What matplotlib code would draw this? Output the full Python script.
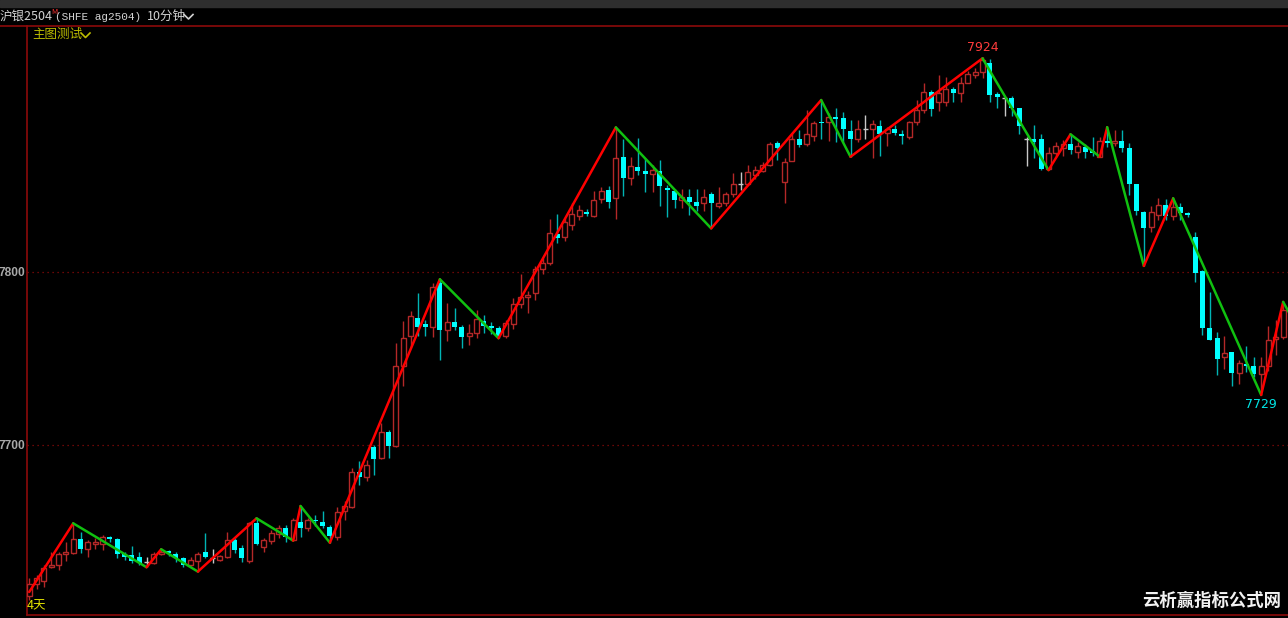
import numpy as np
import matplotlib
matplotlib.use('Agg')
from matplotlib import pyplot as plt
from matplotlib.lines import Line2D

# 10分钟K线 (沪银2504), 读图估算
opens = [7612.7, 7619.7, 7621.4, 7629.5, 7630.6, 7637.0, 7637.6, 7645.7, 7639.9, 7642.8,
         7642.8, 7646.8, 7645.7, 7637.0, 7636.4, 7635.3, 7632.4, 7631.8, 7637.0, 7638.7,
         7637.0, 7634.7, 7630.6, 7633.0, 7638.1, 7634.7, 7633.6, 7635.3, 7645.1, 7640.4,
         7633.0, 7654.7, 7641.0, 7644.5, 7648.5, 7652.0, 7645.1, 7655.7, 7652.1, 7656.9,
         7655.5, 7652.4, 7646.6, 7662.0, 7664.3, 7684.4, 7681.7, 7698.6, 7692.3, 7707.3,
         7699.4, 7745.7, 7763.0, 7773.6, 7769.9, 7768.4, 7793.5, 7766.5, 7771.3, 7768.4,
         7763.2, 7764.7, 7771.6, 7768.8, 7767.5, 7763.2, 7769.8, 7781.5, 7785.4, 7787.7,
         7801.6, 7805.4, 7821.8, 7820.4, 7827.2, 7832.6, 7834.8, 7832.6, 7842.2, 7847.4,
         7842.6, 7866.6, 7854.1, 7860.5, 7858.5, 7856.6, 7858.5, 7848.7, 7846.8, 7841.6,
         7843.5, 7840.6, 7839.7, 7844.9, 7838.3, 7839.7, 7844.9, 7851.0, 7851.0, 7856.0,
         7858.4, 7861.7, 7874.4, 7852.2, 7864.3, 7876.7, 7873.8, 7878.6, 7886.8, 7886.5,
         7889.4, 7888.8, 7881.7, 7876.7, 7882.5, 7882.5, 7884.6, 7880.5, 7882.5, 7879.7,
         7878.2, 7886.5, 7893.6, 7903.9, 7898.4, 7898.4, 7905.6, 7903.6, 7909.4, 7913.8,
         7915.4, 7921.0, 7902.7, 7900.7, 7900.7, 7894.6, 7876.7, 7876.9, 7876.9, 7859.3,
         7868.6, 7871.5, 7874.0, 7869.5, 7872.0, 7870.0, 7866.6, 7875.7, 7874.4, 7875.7,
         7871.8, 7850.8, 7834.8, 7826.2, 7832.9, 7838.7, 7832.1, 7837.4, 7834.0, 7820.0,
         7800.6, 7767.5, 7761.7, 7751.0, 7753.6, 7741.4, 7746.6, 7745.6, 7741.0, 7745.6,
         7761.0, 7762.3]
highs = [7623.0, 7624.8, 7630.6, 7638.1, 7638.0, 7643.9, 7654.7, 7649.9, 7645.0, 7646.0,
         7648.0, 7647.4, 7646.3, 7638.1, 7641.6, 7638.1, 7635.3, 7638.0, 7639.7, 7639.3,
         7638.1, 7635.3, 7635.3, 7638.1, 7649.3, 7640.0, 7636.4, 7649.8, 7646.3, 7642.2,
         7655.3, 7657.6, 7646.3, 7650.9, 7654.0, 7654.0, 7657.6, 7664.7, 7657.8, 7659.5,
         7661.6, 7653.7, 7664.0, 7667.4, 7686.7, 7690.7, 7691.3, 7700.0, 7712.7, 7708.6,
         7759.0, 7771.7, 7777.6, 7788.0, 7772.0, 7793.6, 7795.8, 7782.0, 7779.0, 7769.4,
         7770.0, 7778.0, 7775.0, 7771.0, 7768.5, 7772.4, 7784.8, 7798.8, 7788.8, 7803.7,
         7808.0, 7830.5, 7833.7, 7831.0, 7839.7, 7838.8, 7836.4, 7846.7, 7849.0, 7849.6,
         7883.6, 7877.0, 7866.6, 7877.5, 7866.0, 7862.0, 7865.0, 7850.0, 7848.0, 7847.8,
         7848.0, 7848.0, 7848.0, 7846.0, 7849.0, 7846.0, 7857.0, 7857.8, 7861.6, 7861.0,
         7863.8, 7874.9, 7875.5, 7865.9, 7880.1, 7881.8, 7893.6, 7887.5, 7899.4, 7891.8,
         7895.0, 7892.6, 7887.9, 7888.0, 7890.7, 7887.9, 7887.9, 7884.0, 7885.0, 7882.0,
         7887.0, 7899.5, 7909.4, 7905.0, 7914.0, 7913.0, 7907.0, 7913.0, 7915.9, 7918.0,
         7924.0, 7922.9, 7904.2, 7901.3, 7902.0, 7894.6, 7878.2, 7885.0, 7880.0, 7872.0,
         7875.0, 7876.5, 7879.6, 7875.0, 7874.0, 7878.0, 7878.0, 7883.7, 7882.0, 7882.0,
         7874.7, 7851.0, 7835.4, 7838.0, 7843.0, 7842.0, 7842.6, 7840.0, 7834.5, 7823.3,
         7801.1, 7788.6, 7765.5, 7763.0, 7754.0, 7749.0, 7757.0, 7751.0, 7751.0, 7769.0,
         7772.0, 7782.7]
lows = [7610.4, 7617.0, 7617.9, 7628.9, 7628.0, 7633.0, 7637.0, 7637.6, 7635.0, 7640.0,
        7639.0, 7644.0, 7634.7, 7633.6, 7631.8, 7630.6, 7629.3, 7631.0, 7636.4, 7636.0,
        7632.4, 7629.5, 7630.0, 7626.8, 7634.7, 7631.8, 7633.0, 7634.7, 7637.6, 7632.4,
        7631.8, 7642.2, 7638.1, 7643.0, 7646.0, 7644.0, 7644.7, 7646.8, 7650.3, 7652.9,
        7652.2, 7643.5, 7645.0, 7656.9, 7663.6, 7677.0, 7679.4, 7682.6, 7691.7, 7692.3,
        7699.0, 7734.0, 7756.6, 7763.0, 7763.0, 7762.4, 7749.0, 7760.3, 7766.5, 7756.0,
        7758.0, 7762.0, 7765.0, 7764.0, 7761.7, 7761.8, 7767.0, 7779.0, 7776.0, 7784.0,
        7799.0, 7804.0, 7817.0, 7818.0, 7824.0, 7830.0, 7832.5, 7832.0, 7840.0, 7837.0,
        7830.5, 7844.0, 7850.0, 7856.0, 7846.0, 7846.0, 7838.0, 7832.0, 7837.0, 7837.0,
        7833.0, 7835.0, 7835.0, 7825.2, 7837.0, 7838.0, 7843.5, 7847.4, 7850.0, 7854.0,
        7857.6, 7861.0, 7865.0, 7839.9, 7864.0, 7872.0, 7872.8, 7876.0, 7877.0, 7876.0,
        7875.0, 7875.3, 7866.6, 7875.0, 7876.7, 7866.0, 7867.0, 7873.0, 7879.0, 7874.0,
        7877.0, 7885.0, 7891.7, 7890.0, 7893.0, 7896.0, 7898.0, 7898.0, 7909.0, 7912.0,
        7912.0, 7898.4, 7894.6, 7890.2, 7890.0, 7880.0, 7861.2, 7866.0, 7859.0, 7858.9,
        7867.0, 7867.0, 7868.0, 7866.0, 7866.0, 7867.0, 7866.6, 7872.4, 7873.0, 7869.6,
        7844.5, 7833.0, 7803.5, 7823.0, 7830.0, 7830.0, 7830.0, 7830.0, 7832.0, 7794.4,
        7763.6, 7760.8, 7740.5, 7744.0, 7734.0, 7735.0, 7742.0, 7739.0, 7728.9, 7743.0,
        7752.0, 7761.0]
closes = [7619.7, 7623.3, 7628.9, 7630.6, 7637.0, 7638.1, 7645.7, 7639.9, 7643.9, 7643.9,
          7646.8, 7645.7, 7637.0, 7635.3, 7633.0, 7631.8, 7632.4, 7637.0, 7638.1, 7637.6,
          7634.7, 7630.6, 7633.6, 7637.0, 7635.3, 7634.7, 7635.9, 7645.1, 7639.3, 7634.7,
          7654.7, 7642.8, 7645.1, 7649.1, 7652.0, 7646.8, 7656.6, 7652.2, 7656.9, 7655.9,
          7653.3, 7647.4, 7661.4, 7664.7, 7684.4, 7681.7, 7688.4, 7691.7, 7707.3, 7699.4,
          7745.7, 7761.6, 7774.6, 7768.4, 7768.4, 7791.5, 7766.5, 7771.3, 7768.4, 7762.6,
          7764.7, 7772.7, 7769.0, 7767.5, 7763.2, 7770.3, 7781.5, 7785.4, 7786.8, 7801.6,
          7805.4, 7822.3, 7819.5, 7828.7, 7833.4, 7836.1, 7833.5, 7841.6, 7846.8, 7840.3,
          7865.7, 7854.1, 7861.4, 7858.5, 7856.6, 7859.0, 7849.7, 7847.4, 7841.6, 7843.3,
          7840.3, 7838.3, 7843.5, 7839.7, 7839.7, 7844.9, 7850.8, 7851.0, 7857.6, 7859.0,
          7861.7, 7873.8, 7871.5, 7863.7, 7876.7, 7873.4, 7879.6, 7885.9, 7885.9, 7889.4,
          7888.2, 7882.5, 7876.7, 7882.5, 7882.5, 7885.5, 7879.7, 7882.5, 7880.5, 7878.6,
          7886.5, 7893.6, 7903.9, 7894.2, 7903.3, 7905.6, 7903.6, 7909.4, 7914.4, 7915.8,
          7922.5, 7902.3, 7901.3, 7900.7, 7894.6, 7884.4, 7876.7, 7875.3, 7859.3, 7868.6,
          7872.6, 7874.0, 7870.5, 7872.8, 7869.5, 7868.6, 7875.7, 7874.4, 7875.7, 7871.8,
          7850.8, 7835.4, 7825.2, 7834.8, 7838.7, 7832.1, 7837.5, 7834.0, 7833.0, 7799.6,
          7767.5, 7760.8, 7749.6, 7753.0, 7741.4, 7747.6, 7745.6, 7741.0, 7745.6, 7760.7,
          7762.2, 7778.0]

# ZigZag 拐点 (bar index, price)
zz_idx = [0, 6, 16, 18, 23, 31, 36, 37, 41, 56, 64, 80, 93, 108, 112, 130, 139,
          142, 146, 147, 152, 156, 168, 171, 172]
zz_val = [7615.0, 7654.7, 7629.3, 7639.7, 7626.8, 7657.6, 7644.7, 7664.7, 7643.5,
          7795.8, 7761.7, 7883.6, 7825.2, 7899.4, 7866.6, 7923.5, 7858.9, 7879.6,
          7866.6, 7883.7, 7803.5, 7842.6, 7728.9, 7782.7, 7775.0]

ytick_vals = [7700, 7800]
hi_label, lo_label = '7924', '7729'

W, H = 1288, 618
UP = '#b42828'
DN = '#00ffff'
DN_WICK = '#00b4b4'
AXC = '#8c0a0a'

def fx(x):
    return x / W

def fy(y):
    return 1 - y / H

fig = plt.figure(figsize=(W / 100, H / 100), dpi=100, facecolor='black')
ax = fig.add_axes([fx(26.5), fy(615), 1 - fx(26.5), (615 - 26) / H])
ax.set_facecolor('black')

o = np.array(opens); h = np.array(highs); l = np.array(lows); c = np.array(closes)
idx = np.arange(len(o))
up = c > o
dn = c < o
dj = c == o
bw = 0.7

ax.vlines(idx[up], l[up], h[up], color=UP, lw=1, zorder=2)
ax.bar(idx[up], c[up] - o[up], bottom=o[up], width=bw, facecolor='black',
       edgecolor=UP, lw=1, zorder=3)
ax.vlines(idx[dn], l[dn], h[dn], color=DN_WICK, lw=1, zorder=2)
ax.bar(idx[dn], o[dn] - c[dn], bottom=c[dn], width=bw, color=DN, lw=0, zorder=3)
ax.vlines(idx[dj], l[dj], h[dj], color='#c8c8c8', lw=1, zorder=2)
ax.hlines(c[dj], idx[dj] - bw / 2, idx[dj] + bw / 2, color='#c8c8c8', lw=1, zorder=3)

# zigzag
for k in range(len(zz_idx) - 1):
    col = '#ff0000' if zz_val[k + 1] > zz_val[k] else '#10c010'
    ax.plot(zz_idx[k:k + 2], zz_val[k:k + 2], color=col, lw=1.8, zorder=4,
            solid_capstyle='round')

ax.annotate(hi_label, (130, 7923.5), xytext=(0, 3), textcoords='offset points',
            ha='center', va='bottom', color='#ff3c3c', fontsize=9, zorder=5)
ax.annotate(lo_label, (168, 7728.9), xytext=(0, -2), textcoords='offset points',
            ha='center', va='top', color='#00e6e6', fontsize=9, zorder=5)

ax.set_xlim(-0.37, 171.66)
ax.set_ylim(7601.7, 7942.2)
for v in ytick_vals:
    ax.axhline(v, color=AXC, lw=0.9, ls=(0, (1, 3)), zorder=1)
ax.set_yticks(ytick_vals)
ax.set_yticklabels([str(v) for v in ytick_vals], color='#a8a8a8',
                   fontweight='bold', fontsize=8.6, family='Liberation Sans')
ax.tick_params(axis='y', length=0, pad=1.2)
ax.set_xticks([])
for s in ['left', 'top', 'bottom']:
    ax.spines[s].set_color(AXC)
    ax.spines[s].set_linewidth(1.2)
ax.spines['right'].set_visible(False)

# 顶部标题栏
fig.add_artist(plt.Rectangle((0, fy(7)), 1, 7 / H, transform=fig.transFigure,
                             color='#2e2e2e', zorder=0))
fig.add_artist(Line2D([0, fx(27)], [fy(26), fy(26)], color=AXC, lw=1.2))

cjk = ['Noto Sans CJK SC', 'DejaVu Sans']
fig.text(fx(0), fy(16.5), '沪银2504', color='#d2d2d2', fontsize=9, family=cjk, va='center')
fig.text(fx(51), fy(12.5), 'M', color='#ff3030', fontsize=5.5, family=cjk, va='center')
fig.text(fx(55), fy(16.5), '(SHFE ag2504)', color='#d2d2d2', fontsize=8,
         family='Liberation Mono', va='center')
fig.text(fx(147), fy(16.5), '10分钟', color='#d2d2d2', fontsize=9, family=cjk, va='center')
fig.add_artist(Line2D([fx(184), fx(188.5), fx(193)], [fy(14.5), fy(19), fy(14.5)],
                      color='#d2d2d2', lw=1.2))

fig.text(fx(32), fy(34), '主图测试', color='#bcbc00', fontsize=9, family=cjk, va='center')
fig.add_artist(Line2D([fx(81), fx(85.5), fx(90)], [fy(33), fy(37.5), fy(33)],
                      color='#bcbc00', lw=1.2))

fig.text(fx(27), fy(606), '4天', color='#e0e000', fontsize=9, family=cjk, va='center')
fig.text(fx(1142), fy(601), '云析赢指标公式网', color='#f2f2f2', fontsize=12.5,
         fontweight='bold', family=cjk, va='center')

fig.savefig('out.png', dpi=100, facecolor='black')
